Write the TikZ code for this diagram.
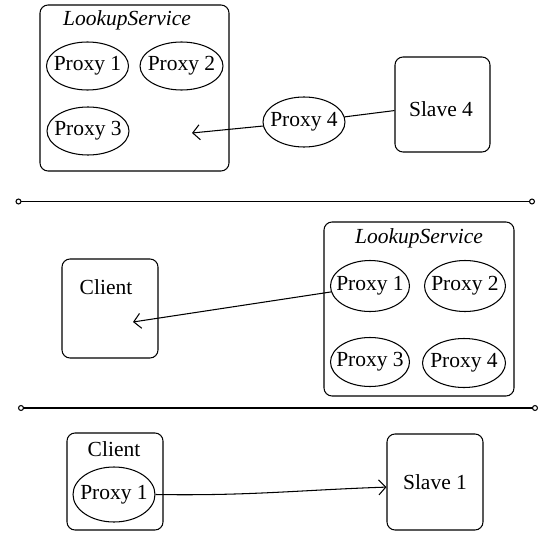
\documentclass[tikz,border=0pt]{standalone}
\usepackage{fontspec}
\setmainfont{Liberation Serif}
\usetikzlibrary{shapes.geometric,arrows.meta}
\tikzset{
  lw/.style={line width=1.05pt},
  txt/.style={font=\fontsize{21.5}{25}\selectfont, inner sep=0pt},
  box/.style={lw, draw, rectangle, rounded corners=8pt, inner sep=0pt},
  prox/.style={lw, draw, ellipse, inner sep=0pt, minimum width=82pt, minimum height=48pt, font=\fontsize{21.5}{25}\selectfont},
  conn/.style={lw},
  arr/.style={lw, -{Straight Barb[length=7pt,width=15pt]}},
  sep/.style={lw, {Circle[open,length=6pt,width=6pt]}-{Circle[open,length=6pt,width=6pt]}}
}
\newcommand{\pxtext}[1]{\makebox[0pt]{#1}}
\begin{document}
\begin{tikzpicture}[x=1pt,y=-1pt]
\useasboundingbox (0,0) rectangle (541,533);
% ---------- panel 1
\node[box, minimum width=189pt, minimum height=166pt] (ls1) at (134.5,88) {};
\node[txt] (ls1t) at (127,20) {\itshape LookupService};
\node[prox] (pa1) at (87.5,66) {\pxtext{Proxy 1}};
\node[prox, minimum width=83pt] (pa2) at (181.5,66) {\pxtext{Proxy 2}};
\node[prox] (pa3) at (88,131) {\pxtext{Proxy 3}};
\node[prox, minimum width=82pt, minimum height=50pt] (pa4) at (304,122) {\pxtext{Proxy 4}};
\node[box, minimum width=95pt, minimum height=95pt] (sl4) at (442.5,104.5) {};
\node[txt] (sl4t) at (441,109) {Slave 4};
\coordinate (c1) at (192,133);
\draw[conn] (sl4) -- (pa4);
\draw[arr] (pa4) -- (c1);
% separator 1
\coordinate (s1a) at (15.5,201.5);
\coordinate (s1b) at (535,201.5);
\draw[sep] (s1a) -- (s1b);
% ---------- panel 2
\node[box, minimum width=190pt, minimum height=174pt] (ls2) at (419,309) {};
\node[txt] (ls2t) at (419,238) {\itshape LookupService};
\node[prox, minimum width=79pt, minimum height=51pt] (pb1) at (370,286) {\pxtext{Proxy 1}};
\node[prox, minimum width=81pt, minimum height=51pt] (pb2) at (465,286) {\pxtext{Proxy 2}};
\node[prox, minimum width=79pt, minimum height=49pt] (pb3) at (370,362) {\pxtext{Proxy 3}};
\node[prox, minimum width=83pt, minimum height=49pt] (pb4) at (464,363) {\pxtext{Proxy 4}};
\node[box, minimum width=96pt, minimum height=99pt] (cl2) at (110,308.5) {};
\node[txt] (cl2t) at (106,287) {Client};
\coordinate (c2) at (133,322);
\draw[arr] (pb1) -- (c2);
% separator 2
\coordinate (s2a) at (18,408);
\coordinate (s2b) at (538,408);
\draw[sep] (s2a) -- (s2b);
% ---------- panel 3
\node[box, minimum width=96pt, minimum height=97pt] (cl3) at (115,481.5) {};
\node[txt] (cl3t) at (114,449) {Client};
\node[prox, minimum width=82pt, minimum height=55pt] (pc1) at (114,494.5) {\pxtext{Proxy 1}};
\node[box, minimum width=96pt, minimum height=96pt] (sl1) at (435,482) {};
\node[txt] (sl1t) at (435,482) {Slave 1};
\draw[arr] (pc1.east) .. controls (250,496) and (300,490) .. (sl1.186);
\end{tikzpicture}
\end{document}
